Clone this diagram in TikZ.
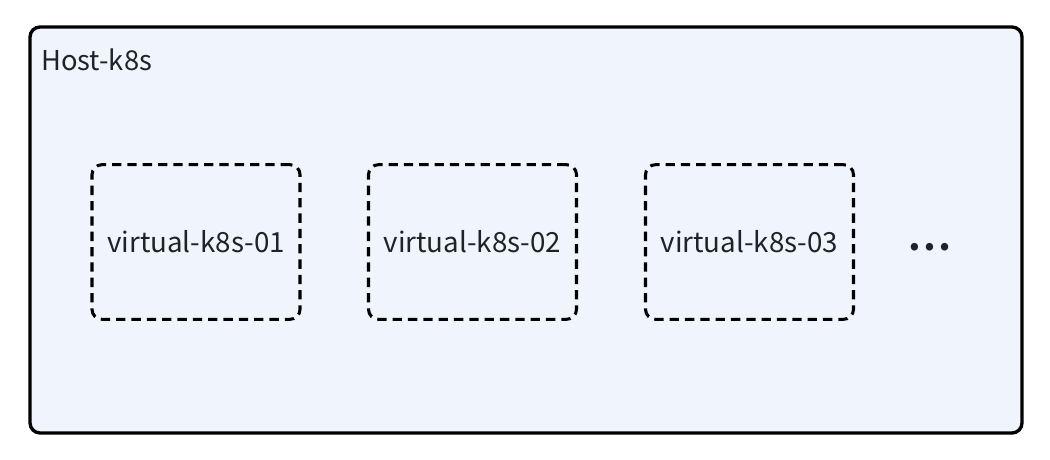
\documentclass[tikz,border=0pt]{standalone}
\usepackage{fontspec}
\setmainfont{Noto Sans CJK SC}
\newfontfamily\dotfont{Noto Sans CJK SC Bold}
\definecolor{hostfill}{HTML}{F0F4FC}
\definecolor{txt}{HTML}{1F2329}
\begin{document}
\begin{tikzpicture}[x=0.75pt,y=-0.75pt,
  host/.style={draw=black,line width=2.5pt,fill=hostfill,rounded corners=7.5pt},
  vbox/.style={draw=black,line width=2.3pt,dash pattern=on 7pt off 4.5pt,rounded corners=7.5pt,minimum width=156pt,minimum height=116pt,inner sep=0pt,text=txt,font=\fontsize{20.8}{24}\selectfont},
  lbl/.style={text=txt,font=\fontsize{20.5}{24}\selectfont,inner sep=0pt}]
\useasboundingbox (0,0) rectangle (1050,460);
\path[host] (30,27) rectangle (1022,433);
\node[lbl,anchor=west] (host) at (41,60) {Host-k8s};
\node[vbox] (v1) at (196,242) {virtual-k8s-01};
\node[vbox] (v2) at (472.5,242) {virtual-k8s-02};
\node[vbox] (v3) at (749.5,242) {virtual-k8s-03};
\node[lbl,font=\dotfont\fontsize{30}{30}\selectfont] (dots) at (930,247) {…};
\end{tikzpicture}
\end{document}
